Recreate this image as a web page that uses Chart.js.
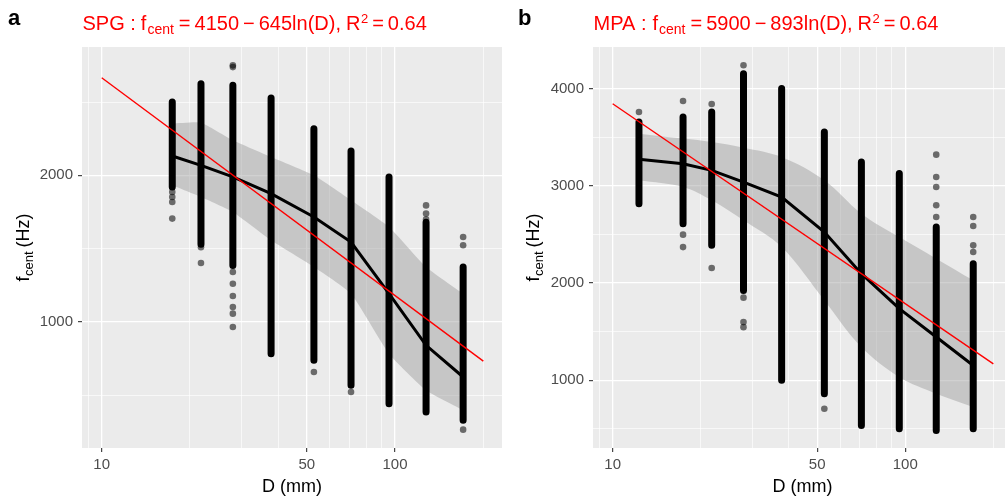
<!DOCTYPE html>
<html>
<head>
<meta charset="utf-8">
<script src="https://cdn.jsdelivr.net/npm/chart.js@4.4.1/dist/chart.umd.min.js"></script>
<style>
  html, body { margin: 0; padding: 0; background: #fff; width: 1005px; height: 498px; overflow: hidden; }
  canvas { position: absolute; top: 0; }
  #panelA { left: 0; }
  #panelB { left: 510px; }
</style>
</head>
<body>
<canvas id="panelA" width="510" height="498"></canvas>
<canvas id="panelB" width="506" height="498"></canvas>
<script>
const FONT = '"Liberation Sans", Arial, sans-serif';

// axis ticks (log x, linear y); only some of them get a label
const xTicks = [9, 10, 20, 30, 40, 50, 60, 70, 80, 90, 100, 200];
const xLabels = [10, 50, 100];
const yTicksA = [500, 1000, 1500, 2000, 2500];
const yLabelsA = [1000, 2000];
const yTicksB = [500, 1000, 1500, 2000, 2500, 3000, 3500, 4000];
const yLabelsB = [1000, 2000, 3000, 4000];

// panel a (SPG)
const diamA = [17.4, 21.8, 28.0, 37.8, 52.9, 70.8, 95.4, 127.6, 170.7];
const stripTopA = [2500, 2625, 2614, 2527, 2318, 2166, 1989, 1680, 1375];
const stripBotA = [1920, 1530, 1386, 784, 739, 568, 443, 386, 330];
const meanA = [2132, 2068, 1989, 1875, 1716, 1545, 1193, 841, 625];
const ribHiA = [2352, 2359, 2239, 2125, 2000, 1830, 1648, 1375, 1193];
const ribLoA = [1932, 1852, 1750, 1557, 1375, 1193, 784, 534, 398];
const outXA = [17.4, 17.4, 17.4, 17.4, 21.8, 21.8, 28, 28, 28, 28, 28, 28, 28, 28, 52.9, 70.8, 127.6, 127.6, 127.6, 170.7, 170.7, 170.7];
const outYA = [1886, 1852, 1818, 1705, 1510, 1402, 2750, 2738, 1341, 1261, 1177, 1102, 1057, 966, 659, 523, 1795, 1740, 1700, 1580, 1523, 266];
const fitX = [10, 200];
const fitYA = [2665, 733];

// panel b (MPA)
const diamB = [12.3, 17.4, 21.8, 28.0, 37.8, 52.9, 70.8, 95.4, 127.6, 170.7];
const stripTopB = [3657, 3708, 3759, 4154, 4000, 3554, 3245, 3126, 2576, 2200];
const stripBotB = [2817, 2611, 2388, 1925, 1000, 862, 536, 502, 485, 502];
const meanB = [3273, 3228, 3159, 3039, 2885, 2525, 2097, 1737, 1445, 1153];
const ribHiB = [3537, 3486, 3451, 3393, 3297, 3057, 2714, 2473, 2251, 2028];
const ribLoB = [3057, 2988, 2851, 2645, 2370, 1822, 1342, 1033, 862, 725];
const outXB = [12.3, 17.4, 17.4, 17.4, 21.8, 21.8, 28, 28, 28, 28, 52.9, 127.6, 127.6, 127.6, 127.6, 127.6, 170.7, 170.7, 170.7, 170.7];
const outYB = [3759, 3873, 2498, 2370, 3842, 2155, 4240, 1850, 1599, 1547, 708, 3321, 3091, 2988, 2800, 2680, 2679, 2587, 2388, 2319];
const fitYB = [3844, 1169];

// draw text pieces one after the other: [text, size, dy, gapAfter]
function runsWidth(ctx, runs) {
  let w = 0;
  for (const r of runs) {
    ctx.font = r[1] + 'px ' + FONT;
    w += ctx.measureText(r[0]).width + r[3];
  }
  return w;
}
function drawRuns(ctx, x, y, runs) {
  for (const r of runs) {
    ctx.font = r[1] + 'px ' + FONT;
    ctx.fillText(r[0], x, y + r[2]);
    x += ctx.measureText(r[0]).width + r[3];
  }
}

const panelText = {
  id: 'panelText',
  beforeDraw(chart) {
    const a = chart.chartArea, ctx = chart.ctx;
    ctx.save();
    ctx.fillStyle = '#EBEBEB';
    ctx.fillRect(a.left, a.top, a.right - a.left, a.bottom - a.top);
    ctx.restore();
  },
  afterDraw(chart, args, opts) {
    const a = chart.chartArea, ctx = chart.ctx;
    ctx.save();
    ctx.textAlign = 'left';
    ctx.textBaseline = 'alphabetic';
    ctx.fillStyle = '#000';
    ctx.font = 'bold 22px ' + FONT;
    ctx.fillText(opts.tag, opts.tagX, 25);
    ctx.fillStyle = '#FF0000';
    drawRuns(ctx, a.left + 0.5, 29.5, opts.title);
    // y axis title with subscript
    const yRuns = [['f', 18, 0, 0.5], ['cent', 13, 4, 4], ['(Hz)', 18, 0, 0]];
    ctx.fillStyle = '#000';
    ctx.translate(29, (a.top + a.bottom) / 2);
    ctx.rotate(-Math.PI / 2);
    drawRuns(ctx, -runsWidth(ctx, yRuns) / 2, 0, yRuns);
    ctx.restore();
  }
};

function xy(xs, ys) {
  return xs.map((x, i) => ({ x: x, y: ys[i] }));
}

function buildPanel(id, p) {
  const strips = [];
  p.diam.forEach((d, i) => {
    strips.push({ x: d, y: p.stripTop[i] }, { x: d, y: p.stripBot[i] }, { x: d, y: null });
  });
  const ribbon = 'rgba(153,153,153,0.45)';
  new Chart(document.getElementById(id), {
    type: 'line',
    data: {
      datasets: [
        { data: xy(fitX, p.fitY), borderColor: '#FF0000', borderWidth: 1.4, pointRadius: 0, order: 0 },
        { data: xy(p.diam, p.mean), borderColor: '#000000', borderWidth: 3, pointRadius: 0, order: 1 },
        { data: xy(p.outX, p.outY), showLine: false, pointRadius: 3.3, pointBackgroundColor: 'rgba(0,0,0,0.55)',
          pointBorderWidth: 0, pointBorderColor: 'transparent', order: 2 },
        { data: strips, borderColor: '#000000', borderWidth: 7, borderCapStyle: 'round', pointRadius: 0, spanGaps: false, order: 3 },
        { data: xy(p.diam, p.ribHi), borderColor: 'transparent', borderWidth: 0, pointRadius: 0,
          fill: '+1', backgroundColor: ribbon, tension: p.tension, order: 4 },
        { data: xy(p.diam, p.ribLo), borderColor: 'transparent', borderWidth: 0, pointRadius: 0,
          fill: false, tension: p.tension, order: 5 }
      ]
    },
    options: {
      responsive: false,
      animation: false,
      events: [],
      layout: { padding: { top: 47, right: p.padRight, left: 0, bottom: 0 } },
      plugins: {
        legend: { display: false },
        tooltip: { enabled: false },
        panelText: { tag: p.tag, tagX: p.tagX, title: p.title }
      },
      scales: {
        x: {
          type: 'logarithmic',
          min: 8.567,
          max: 231.6,
          afterBuildTicks: s => { s.ticks = xTicks.map(v => ({ value: v })); },
          afterFit: s => { s.height = 50; },
          ticks: {
            autoSkip: false, maxRotation: 0, minRotation: 0, padding: 4,
            color: '#4D4D4D', font: { family: FONT, size: 15 },
            callback: v => xLabels.includes(v) ? String(v) : ''
          },
          grid: {
            color: '#FFFFFF',
            lineWidth: c => xLabels.includes(c.tick.value) ? 1.3 : 0.65,
            tickLength: 4,
            tickWidth: 1.1,
            tickColor: c => xLabels.includes(c.tick.value) ? '#333333' : 'rgba(0,0,0,0)'
          },
          border: { display: false },
          title: { display: true, text: 'D (mm)', color: '#000000', font: { family: FONT, size: 18 }, padding: 0 }
        },
        y: {
          type: 'linear',
          min: p.yMin,
          max: p.yMax,
          afterBuildTicks: s => { s.ticks = p.yTicks.map(v => ({ value: v })); },
          afterFit: s => { s.width = p.yWidth; },
          ticks: {
            autoSkip: false, padding: 5,
            color: '#4D4D4D', font: { family: FONT, size: 15 },
            callback: v => p.yLabels.includes(v) ? String(v) : ''
          },
          grid: {
            color: '#FFFFFF',
            lineWidth: c => p.yLabels.includes(c.tick.value) ? 1.3 : 0.65,
            tickLength: 4,
            tickWidth: 1.1,
            tickColor: c => p.yLabels.includes(c.tick.value) ? '#333333' : 'rgba(0,0,0,0)'
          },
          border: { display: false }
        }
      }
    },
    plugins: [panelText]
  });
}

buildPanel('panelA', {
  tag: 'a', tagX: 8, padRight: 8, yWidth: 82,
  yMin: 141, yMax: 2875, yTicks: yTicksA, yLabels: yLabelsA,
  diam: diamA, stripTop: stripTopA, stripBot: stripBotA, mean: meanA,
  ribHi: ribHiA, ribLo: ribLoA, outX: outXA, outY: outYA, fitY: fitYA, tension: 0.15,
  title: [['SPG :', 20, 0, 5], ['f', 20, 0, 1], ['cent', 14, 4, 5], ['=', 20, 0, 4], ['4150', 20, 0, 4],
          ['\u2212', 20, 0, 4], ['645ln(D),', 20, 0, 5], ['R', 20, 0, 0.5], ['2', 13, -7, 4], ['=', 20, 0, 4], ['0.64', 20, 0, 0]]
});

buildPanel('panelB', {
  tag: 'b', tagX: 8, padRight: 3, yWidth: 83,
  yMin: 304, yMax: 4428, yTicks: yTicksB, yLabels: yLabelsB,
  diam: diamB, stripTop: stripTopB, stripBot: stripBotB, mean: meanB,
  ribHi: ribHiB, ribLo: ribLoB, outX: outXB, outY: outYB, fitY: fitYB, tension: 0.35,
  title: [['MPA :', 20, 0, 6], ['f', 20, 0, 1], ['cent', 14, 4, 5], ['=', 20, 0, 4], ['5900', 20, 0, 4],
          ['\u2212', 20, 0, 4], ['893ln(D),', 20, 0, 5], ['R', 20, 0, 0.5], ['2', 13, -7, 4], ['=', 20, 0, 4], ['0.64', 20, 0, 0]]
});
</script>
</body>
</html>
